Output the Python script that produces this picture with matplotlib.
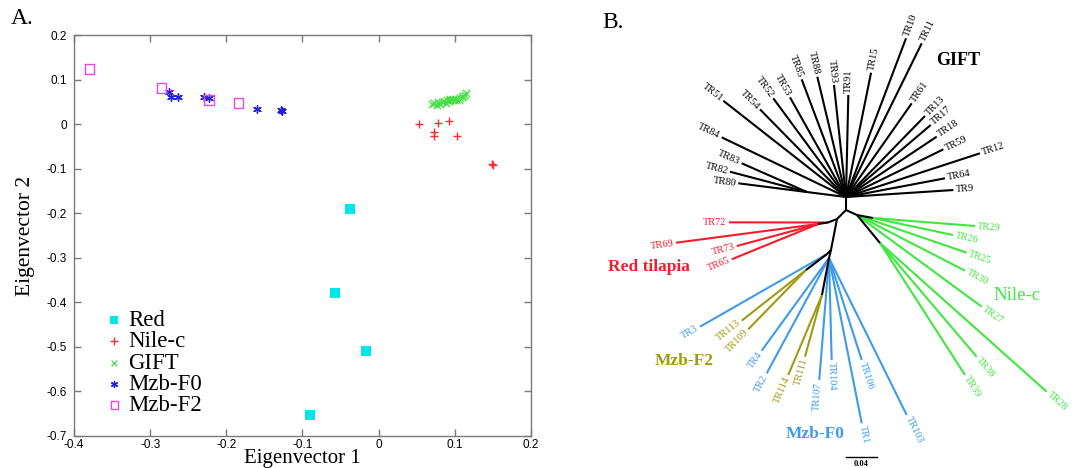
import numpy as np
import matplotlib.pyplot as plt

# ---------------- PCA scores (panel A) ----------------
red_x = [-0.037, -0.057, -0.017, -0.090]
red_y = [-0.190, -0.378, -0.509, -0.652]

nile_x = [0.053, 0.078, 0.092, 0.073, 0.073, 0.103, 0.150, 0.149]
nile_y = [0.000, 0.003, 0.008, -0.018, -0.027, -0.027, -0.091, -0.090]

gift_x = [0.070, 0.073, 0.076, 0.078, 0.081, 0.083, 0.086, 0.088, 0.090, 0.092, 0.094,
          0.096, 0.098, 0.100, 0.102, 0.105, 0.107, 0.109, 0.111, 0.113, 0.115, 0.093]
gift_y = [0.045, 0.047, 0.044, 0.049, 0.046, 0.050, 0.052, 0.048, 0.054, 0.051, 0.055,
          0.053, 0.057, 0.054, 0.056, 0.055, 0.058, 0.060, 0.063, 0.066, 0.069, 0.057]

f0_x = [-0.2755, -0.2733, -0.2633, -0.2288, -0.2224, -0.1597, -0.128, -0.127]
f0_y = [0.073, 0.060, 0.061, 0.061, 0.058, 0.034, 0.031, 0.029]

f2_x = [-0.380, -0.2855, -0.2229, -0.1843]
f2_y = [0.1234, 0.0808, 0.0545, 0.0475]

# ---------------- Neighbour-joining tree (panel B), distance units ----------------
node_names = ["C", "G", "GL", "R", "RH", "RH2", "M", "MA", "MF2a", "MB", "MF2b", "N1", "N1a", "N2"]
node_x = [0.0, 0.0, -0.0503, -0.0116, -0.0232, -0.0361, -0.0194, -0.0245, -0.0516, -0.0219, -0.0310,
          0.0142, 0.0348, 0.0439]
node_y = [0.0, 0.0168, 0.0232, -0.0116, -0.0161, -0.0181, -0.0516, -0.0568, -0.0774, -0.0619, -0.1097,
          -0.0065, -0.0103, -0.0426]
node_parent = [None, "C", "G", "C", "R", "RH", "R", "M", "MA", "M", "MB", "C", "N1", "N1"]

tip_names = ["TR51", "TR54", "TR52", "TR53", "TR85", "TR88", "TR93", "TR91", "TR15", "TR10",
             "TR11", "TR61", "TR13", "TR17", "TR18", "TR59", "TR12", "TR64", "TR9", "TR84",
             "TR83", "TR82", "TR80",
             "TR72", "TR69", "TR73", "TR65",
             "TR29", "TR26", "TR25", "TR30", "TR27", "TR38", "TR39", "TR28",
             "TR3", "TR113", "TR109", "TR4", "TR2", "TR114", "TR111", "TR107", "TR104",
             "TR106", "TR1", "TR103"]
tip_x = [-0.1583, -0.1110, -0.0938, -0.0723, -0.0572, -0.0370, -0.0155, 0.0030, 0.0323, 0.0774,
         0.0977, 0.0848, 0.1019, 0.1093, 0.1170, 0.1256, 0.1729, 0.1277, 0.1385, -0.1604,
         -0.1346, -0.1497, -0.1390,
         -0.1510, -0.2194, -0.1410, -0.1475,
         0.1665, 0.1381, 0.1557, 0.1535, 0.1751, 0.1686, 0.1535, 0.2590,
         -0.1884, -0.1346, -0.1261, -0.1088, -0.1023, -0.0745, -0.0529, -0.0345, -0.0185,
         0.0203, 0.0203, 0.0783]
tip_y = [0.1410, 0.1299, 0.1441, 0.1454, 0.1686, 0.1720, 0.1613, 0.1484, 0.1772, 0.2215,
         0.2151, 0.1377, 0.1213, 0.1097, 0.0946, 0.0783, 0.0732, 0.0409, 0.0258, 0.0938,
         0.0603, 0.0494, 0.0345,
         -0.0159, -0.0422, -0.0465, -0.0636,
         -0.0206, -0.0323, -0.0551, -0.0783, -0.1248, -0.1893, -0.2129, -0.2345,
         -0.1506, -0.1428, -0.1539, -0.1815, -0.2107, -0.2129, -0.1893, -0.2194, -0.1935,
         -0.1935, -0.2752, -0.2645]
tip_parent = ["G"] * 20 + ["GL"] * 3 + \
             ["RH", "RH2", "RH2", "RH2"] + \
             ["N1a", "N1a", "N1", "N1", "N1", "N2", "N2", "N2"] + \
             ["MA", "MF2a", "MF2a", "MB", "MB", "MF2b", "MF2b", "MB", "MB", "MB", "MB", "MB"]
tip_group = ["GIFT"] * 23 + ["Red"] * 4 + ["Nile"] * 8 + \
            ["F0", "F2", "F2", "F0", "F0", "F2", "F2", "F0", "F0", "F0", "F0", "F0"]

scale_bar_length = 0.04

group_colors = {"GIFT": "black", "Red": "#f21c2c", "Nile": "#3ee83e",
                "F0": "#3d9be9", "F2": "#a09a12"}

SERIF = ["Liberation Serif", "DejaVu Serif"]
SANS = ["Liberation Sans", "DejaVu Sans"]

fig = plt.figure(figsize=(10.72, 4.68), dpi=100)

# ---------------- Panel A: PCA scatter ----------------
ax1 = fig.add_axes([74 / 1072, 32 / 468, 457 / 1072, 401 / 468])
ax1.scatter(red_x, red_y, marker="s", s=52, color="#00e6ea", linewidths=0, label="Red", zorder=3)
ax1.scatter(nile_x, nile_y, marker="+", s=40, color="#ff2a2a", linewidths=1.0, label="Nile-c", zorder=3)
ax1.scatter(gift_x, gift_y, marker="x", s=28, color="#44dd44", linewidths=0.9, label="GIFT", zorder=3)
ax1.scatter(f0_x, f0_y, marker=(6, 2, 0), s=30, color="#2020d8", linewidths=1.0, label="Mzb-F0", zorder=3)
ax1.scatter(f2_x, f2_y, marker="s", s=46, facecolors="none", edgecolors="#ee44ee", linewidths=1.0,
            label="Mzb-F2", zorder=3)

ax1.set_xlim(-0.4, 0.2)
ax1.set_ylim(-0.7, 0.2)
ax1.set_xticks(np.arange(-0.4, 0.21, 0.1))
ax1.set_yticks(np.arange(-0.7, 0.21, 0.1))
ax1.set_xticklabels(["-0.4", "-0.3", "-0.2", "-0.1", "0", "0.1", "0.2"])
ax1.set_yticklabels(["-0.7", "-0.6", "-0.5", "-0.4", "-0.3", "-0.2", "-0.1", "0", "0.1", "0.2"])
for sp in ax1.spines.values():
    sp.set_color("#7a7a7a")
    sp.set_linewidth(1.0)
ax1.tick_params(direction="in", length=5, width=1, color="#7a7a7a", top=True, right=True,
                labelsize=8.5, pad=5)
ax1.tick_params(axis="x", pad=2.5)
for lab in ax1.get_xticklabels() + ax1.get_yticklabels():
    lab.set_family(SANS)
ax1.set_xlabel("Eigenvector 1", fontsize=15, family=SERIF, va="baseline")
ax1.xaxis.set_label_coords(0.5, -(463 - 436) / 401)
ax1.set_ylabel("Eigenvector 2", fontsize=15.5, family=SERIF, va="center")
ax1.yaxis.set_label_coords(-0.106, 0.5)

leg = ax1.legend(loc="upper left", bbox_to_anchor=(0.038, 0.3425), frameon=False,
                 prop={"family": SERIF, "size": 16.5}, handletextpad=0.1,
                 labelspacing=0.01, handlelength=1.0, borderpad=0, markerscale=0.8)

fig.text(22 / 1072, 1 - 18 / 468, "A.", fontsize=17, family=SERIF, ha="center", va="center")

# ---------------- Panel B: unrooted tree ----------------
ax2 = fig.add_axes([600 / 1072, 0, 472 / 1072, 1])
ax2.set_xlim(-0.3174, 0.2916)
ax2.set_ylim(-0.3329, 0.2710)
ax2.axis("off")

pos = {n: (x, y) for n, x, y in zip(node_names, node_x, node_y)}
for n, par in zip(node_names, node_parent):
    if par is None:
        continue
    (x0, y0), (x1, y1) = pos[par], pos[n]
    ax2.plot([x0, x1], [y0, y1], color="black", lw=1.5, solid_capstyle="butt", zorder=3)

for name, x, y, par, grp in zip(tip_names, tip_x, tip_y, tip_parent, tip_group):
    x0, y0 = pos[par]
    col = group_colors[grp]
    ax2.plot([x0, x], [y0, y], color=col, lw=1.5, solid_capstyle="butt", zorder=2)
    ang = np.degrees(np.arctan2(y - y0, x - x0))
    d = np.hypot(x - x0, y - y0)
    off = 0.003
    tx, ty = x + off * (x - x0) / d, y + off * (y - y0) / d
    if -90.5 < ang <= 90.5:
        rot, ha = ang, "left"
    else:
        rot, ha = ang + 180 if ang < 0 else ang - 180, "right"
    ax2.text(tx, ty, name, rotation=rot, ha=ha, va="center", rotation_mode="anchor",
             fontsize=7.5, family=SERIF, color=col)

# clade labels
clade_text = [("GIFT", 0.1445, 0.1935, "black", "bold", 13),
              ("Red tilapia", -0.2548, -0.0735, group_colors["Red"], "bold", 12.5),
              ("Nile-c", 0.2206, -0.1097, group_colors["Nile"], "normal", 13.5),
              ("Mzb-F2", -0.2090, -0.1948, group_colors["F2"], "bold", 12.5),
              ("Mzb-F0", -0.0400, -0.2884, group_colors["F0"], "bold", 12.5)]
for txt, x, y, c, w, fs in clade_text:
    ax2.text(x, y, txt, ha="center", va="center", color=c, fontweight=w, fontsize=fs, family=SERIF)

# scale bar
sb_x0, sb_y = -0.0004, -0.3191
ax2.plot([sb_x0, sb_x0 + scale_bar_length], [sb_y, sb_y], color="black", lw=1.0)
ax2.text(sb_x0 + scale_bar_length / 2, sb_y - 0.004, f"{scale_bar_length:.2f}", ha="center", va="top",
         fontsize=6, fontweight="bold", family=SERIF)

fig.text(613 / 1072, 1 - 22 / 468, "B.", fontsize=17, family=SERIF, ha="center", va="center")

fig.savefig("out.png", dpi=100)
